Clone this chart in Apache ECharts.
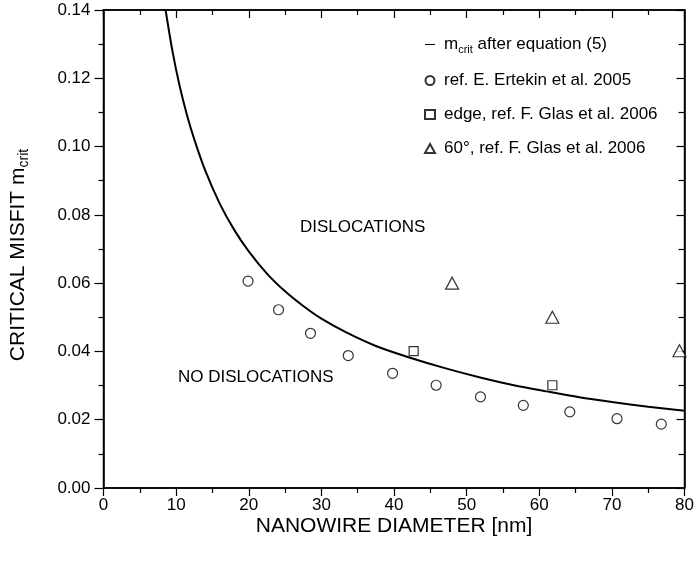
<!DOCTYPE html>
<html>
<head>
<meta charset="utf-8">
<script src="https://cdn.jsdelivr.net/npm/echarts@6/dist/echarts.min.js"></script>
<style>html,body{margin:0;padding:0;background:#fff}#c{width:697px;height:561px}</style>
</head>
<body>
<div id="c"></div>
<script>
// Data
const curveMcrit = [[8.55,0.1400],[9.5,0.1279],[10.5,0.1176],[11.5,0.1092],[12.5,0.1021],[14,0.0930],[16,0.0833],[18,0.0756],[20,0.0693],[22.5,0.0628],[25,0.0576],[27.5,0.0533],[30,0.0496],[33.5,0.0455],[37.5,0.0416],[42,0.0383],[47,0.0351],[52,0.0323],[56.5,0.0301],[61,0.0283],[65.5,0.0266],[70,0.0252],[75,0.0238],[80,0.0226]];
const ertekin2005 = [[19.9,0.0606],[24.1,0.0522],[28.5,0.0453],[33.7,0.0388],[39.8,0.0336],[45.8,0.0301],[51.9,0.0267],[57.8,0.0242],[64.2,0.0223],[70.7,0.0203],[76.8,0.0187]];
const glasEdge2006 = [[42.7,0.0401],[61.8,0.0301]];
const glas60_2006 = [[48.0,0.0600],[61.8,0.0500],[79.3,0.0402]];
const legendNames = ['mcrit','ref. E. Ertekin et al. 2005','edge, ref. F. Glas et al. 2006','60°, ref. F. Glas et al. 2006'];
const xTitle = 'NANOWIRE DIAMETER [nm]';
const regionLabels = ['DISLOCATIONS','NO DISLOCATIONS'];

const FONT = '"Liberation Sans", Arial, Helvetica, sans-serif';
const chart = echarts.init(document.getElementById('c'));
const axisLine = {show:true,onZero:false,lineStyle:{color:'#000',width:1.5}};
const mk = {color:'#fff',borderColor:'#000',borderWidth:1.2};
const tickStyle = {color:'#000',width:1.2};
chart.setOption({
  animation:false,
  backgroundColor:'#fff',
  textStyle:{fontFamily:FONT},
  grid:{left:100,right:11,top:10,bottom:73,containLabel:false,show:true,borderColor:'#000',borderWidth:1.5,backgroundColor:'transparent'},
  xAxis:[
    {type:'value',position:'bottom',min:0,max:80,interval:10,axisLine:axisLine,splitLine:{show:false},
      name:xTitle,nameLocation:'middle',nameGap:28,nameMoveOverlap:false,
      nameTextStyle:{fontFamily:FONT,fontSize:21,color:'#000'},
      axisTick:{show:true,inside:false,length:8,lineStyle:tickStyle},
      minorTick:{show:true,splitNumber:2,length:5,lineStyle:tickStyle},
      axisLabel:{fontFamily:FONT,fontSize:17,color:'#000',margin:9}},
    {type:'value',position:'top',min:0,max:80,interval:10,axisLine:axisLine,splitLine:{show:false},
      axisTick:{show:true,inside:true,length:8,lineStyle:tickStyle},
      minorTick:{show:true,splitNumber:2,length:5,lineStyle:tickStyle},
      axisLabel:{show:false}}
  ],
  yAxis:[
    {type:'value',position:'left',min:0,max:0.14,interval:0.02,axisLine:axisLine,splitLine:{show:false},
      name:'{t|CRITICAL MISFIT m}{s|crit}',nameLocation:'middle',nameGap:72,nameRotate:90,nameMoveOverlap:false,
      nameTextStyle:{fontFamily:FONT,color:'#000',padding:[0,12,0,0],rich:{t:{fontFamily:FONT,fontSize:21,color:'#000'},s:{fontFamily:FONT,fontSize:14,color:'#000',padding:[12,0,0,0]}}},
      axisTick:{show:true,inside:false,length:9,lineStyle:tickStyle},
      minorTick:{show:true,splitNumber:2,length:5,lineStyle:tickStyle},
      axisLabel:{fontFamily:FONT,fontSize:17,color:'#000',margin:13,formatter:v=>v.toFixed(2)}},
    {type:'value',position:'right',min:0,max:0.14,interval:0.02,axisLine:axisLine,splitLine:{show:false},
      axisTick:{show:true,inside:true,length:8,lineStyle:tickStyle},
      minorTick:{show:true,splitNumber:2,length:6,lineStyle:tickStyle},
      axisLabel:{show:false}}
  ],
  legend:{
    orient:'vertical',left:419,top:29,itemWidth:10,itemHeight:9,itemGap:17,
    data:[
      {name:legendNames[0],icon:'path://M0,5L10,5L10,6L0,6Z',itemStyle:{color:'#000'}},
      {name:legendNames[1],icon:'circle'},
      {name:legendNames[2],icon:'rect'},
      {name:legendNames[3],icon:'triangle'}
    ],
    formatter:n=> n==='mcrit' ? '{f|m}{s|crit}{a| after equation (5)}' : '{f|'+n+'}',
    textStyle:{fontFamily:FONT,fontSize:17,color:'#000',
      rich:{
        f:{fontFamily:FONT,fontSize:17,color:'#000',lineHeight:22,padding:[0,0,0,4]},
        a:{fontFamily:FONT,fontSize:17,color:'#000',lineHeight:22},
        s:{fontFamily:FONT,fontSize:11,color:'#000',lineHeight:22,padding:[10,0,0,0]}}},
    selectedMode:false
  },
  graphic:[
    {type:'text',left:300,top:219,style:{text:regionLabels[0],font:'17px '+FONT,fill:'#000'}},
    {type:'text',left:178,top:369,style:{text:regionLabels[1],font:'17px '+FONT,fill:'#000'}}
  ],
  series:[
    {name:legendNames[0],type:'line',data:curveMcrit,smooth:0.3,showSymbol:false,symbol:'none',
      lineStyle:{color:'#000',width:2},itemStyle:{color:'#000'},clip:true,z:3},
    {name:legendNames[1],type:'scatter',data:ertekin2005,symbol:'circle',symbolSize:10,itemStyle:mk,z:4},
    {name:legendNames[2],type:'scatter',xAxisIndex:1,yAxisIndex:1,data:glasEdge2006,symbol:'rect',symbolSize:9,itemStyle:mk,z:4},
    {name:legendNames[3],type:'scatter',xAxisIndex:1,yAxisIndex:1,data:glas60_2006,symbol:'triangle',symbolSize:[13,12],itemStyle:mk,z:4}
  ]
});
</script>
</body>
</html>
